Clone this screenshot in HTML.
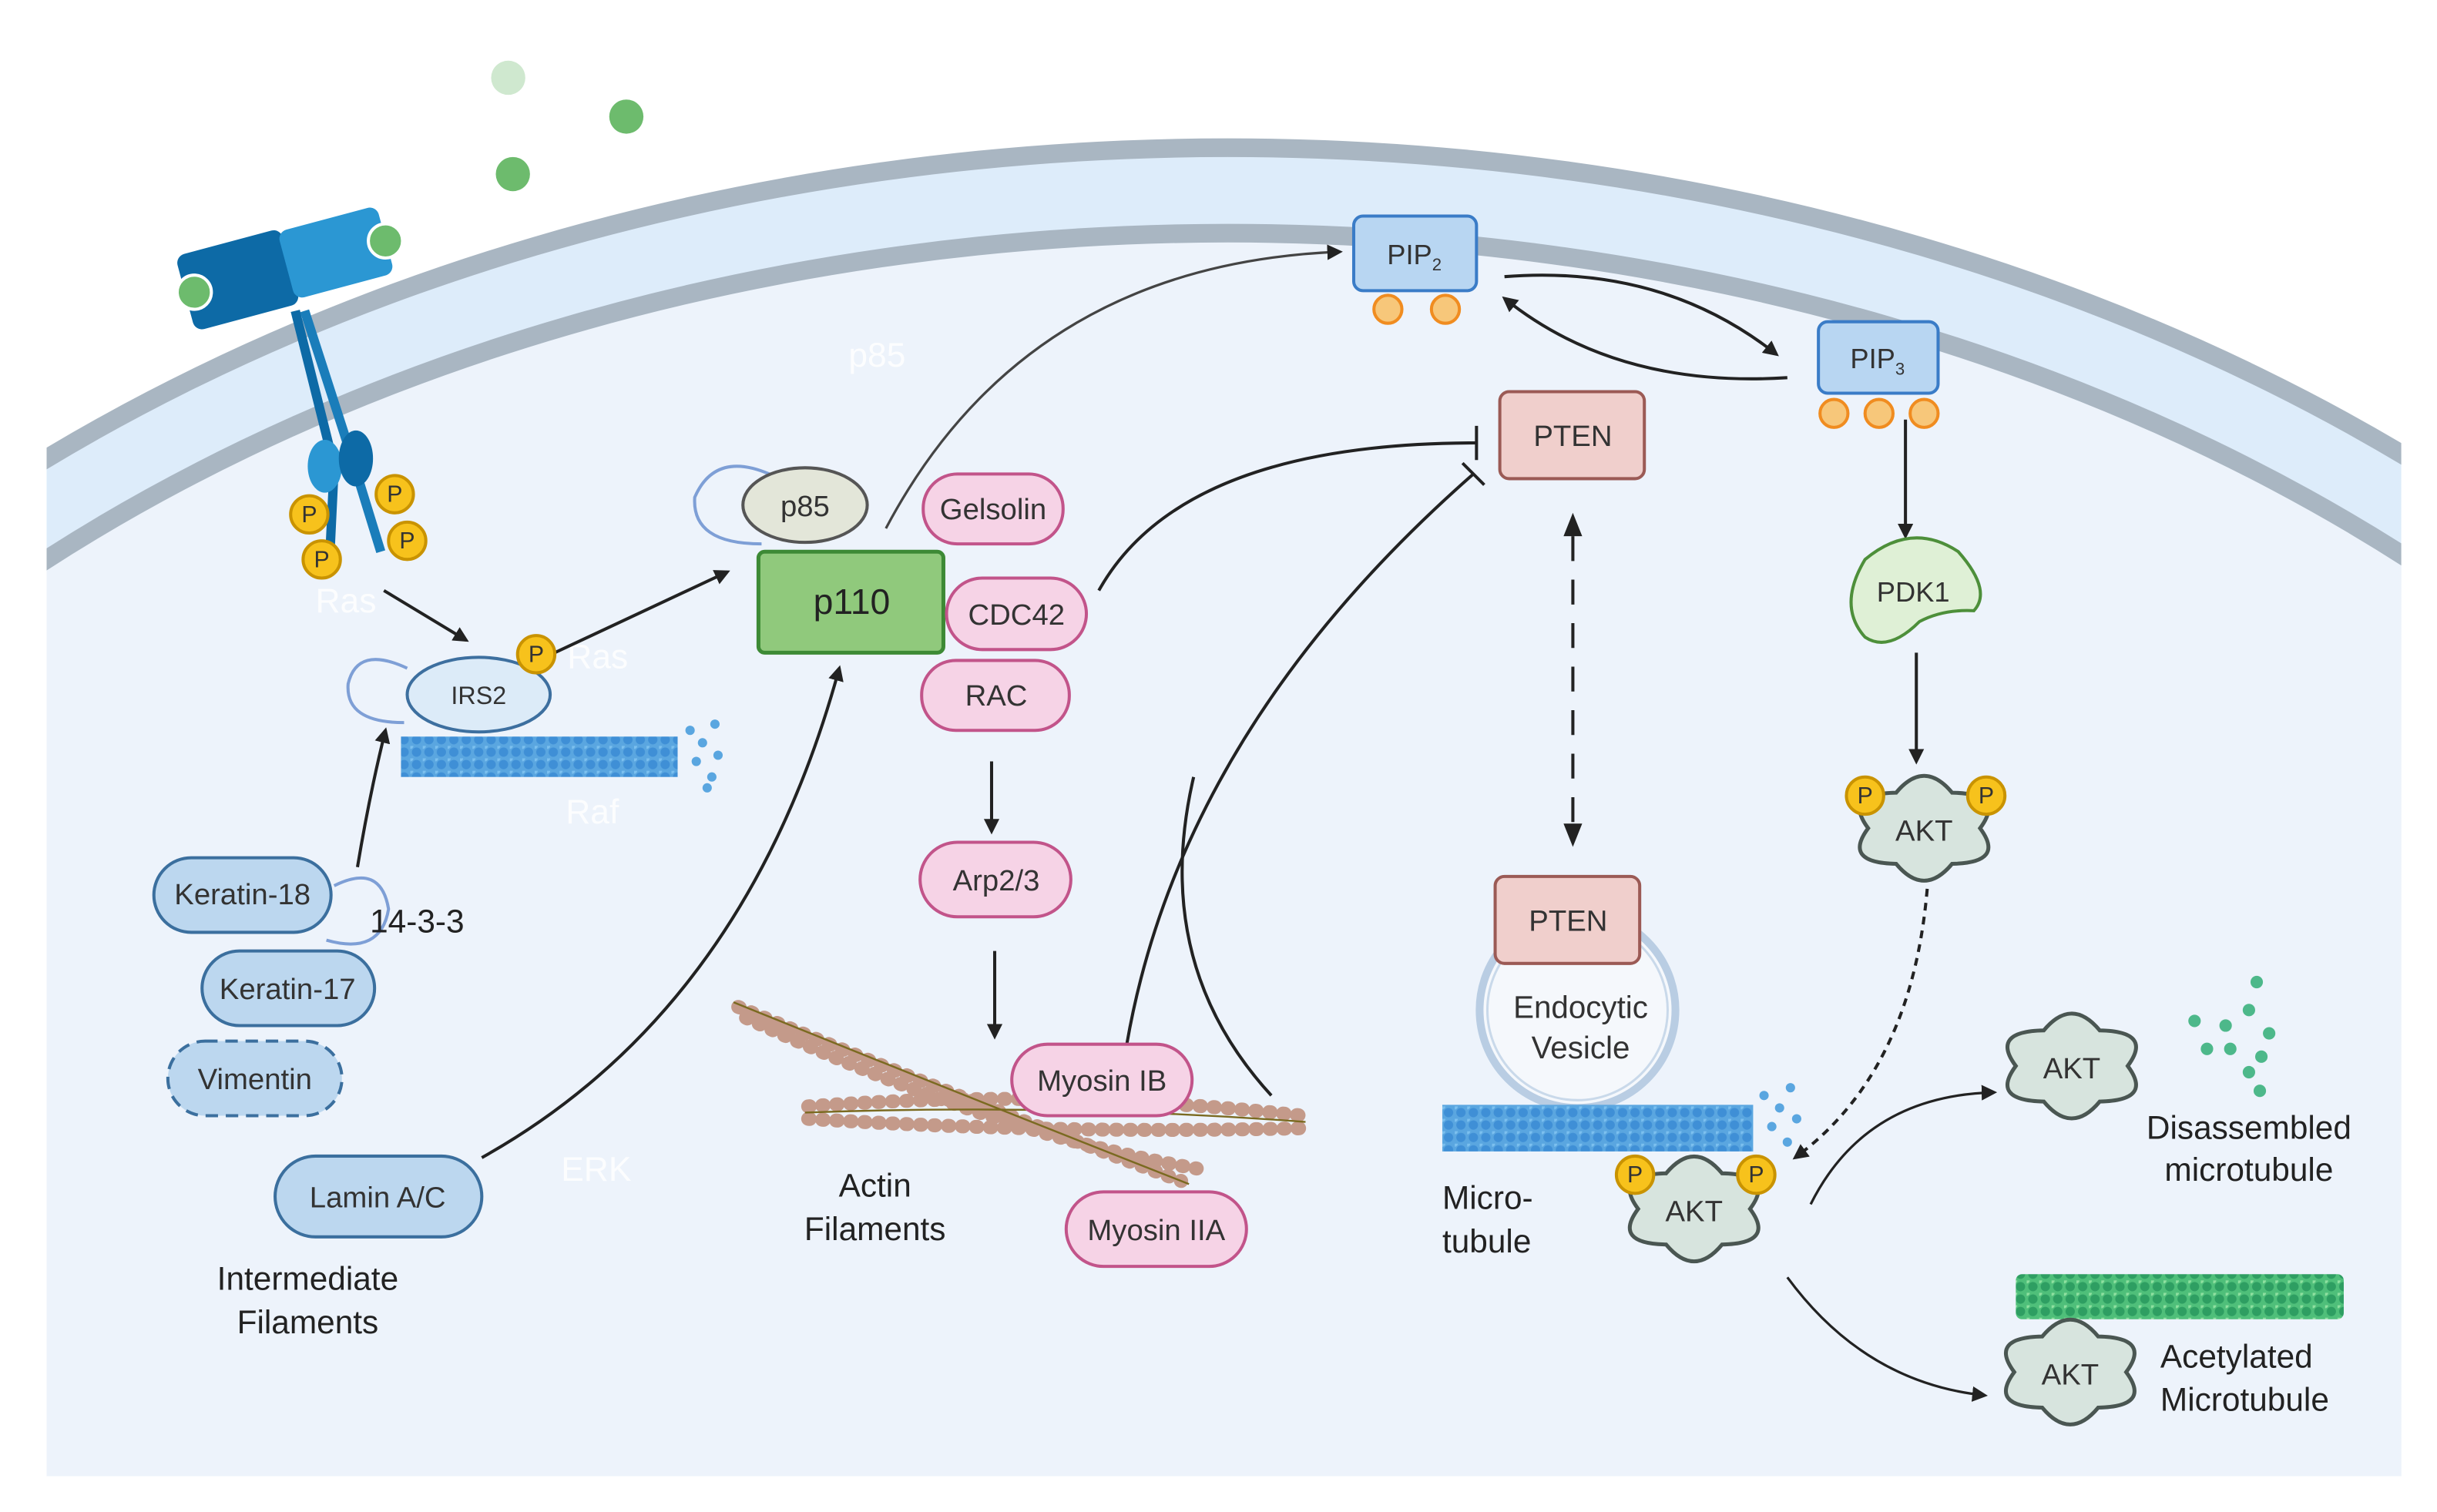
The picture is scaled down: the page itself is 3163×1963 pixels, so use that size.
<!DOCTYPE html>
<html><head><meta charset="utf-8"><style>html,body{margin:0;padding:0;background:#fff;width:3163px;height:1963px;overflow:hidden}svg{display:block}</style></head>
<body>
<svg width="3163" height="1963" viewBox="0 0 1568 973" xmlns="http://www.w3.org/2000/svg" font-family="Liberation Sans, sans-serif">
<defs>
<clipPath id="cell"><rect x="30" y="0" width="1515" height="950"/></clipPath>
<marker id="ar" markerWidth="10" markerHeight="10" refX="8" refY="5" orient="auto" markerUnits="userSpaceOnUse"><path d="M0,0 L10,5 L0,10 Z" fill="#222"/></marker>
<pattern id="mt" width="8" height="8" patternUnits="userSpaceOnUse"><rect width="8" height="8" fill="#5aa6e0"/><circle cx="4" cy="4" r="3" fill="#3f8fd6"/><circle cx="0" cy="0" r="2" fill="#7cc0ef"/></pattern>
<pattern id="gt" width="8" height="8" patternUnits="userSpaceOnUse"><rect width="8" height="8" fill="#4fbf7a"/><circle cx="4" cy="4" r="3" fill="#2e9e62"/><circle cx="0" cy="0" r="2" fill="#8fe0a0"/></pattern>
<g id="akt"><path d="M36,0 Q52.6,22.3 18,22.9 Q0,44.6 -18,22.9 Q-52.6,22.3 -36,0 Q-52.6,-22.3 -18,-22.9 Q0,-44.6 18,-22.9 Q52.6,-22.3 36,0Z" fill="#d7e4de" stroke="#4a5652" stroke-width="2.5"/></g>
<g id="pp"><circle r="12" fill="#f7c21c" stroke="#c99300" stroke-width="2"/></g>
</defs>
<g clip-path="url(#cell)">
<ellipse cx="790" cy="1000" rx="1212" ry="905" fill="#ddecfa"/>
<ellipse cx="790" cy="1000" rx="1212" ry="905" fill="none" stroke="#a9b6c2" stroke-width="12"/>
<ellipse cx="790" cy="1000" rx="1155" ry="850" fill="#edf3fb" stroke="#a9b6c2" stroke-width="12"/>
</g>
<rect x="30" y="600" width="1515" height="350" fill="#edf3fb"/>
<circle cx="327" cy="50" r="11" fill="#cfe8cf"/>
<circle cx="403" cy="75" r="11" fill="#6dbb6d"/>
<circle cx="330" cy="112" r="11" fill="#6dbb6d"/>
<g>
<rect x="118" y="155" width="70" height="50" rx="6" fill="#0d6aa6" transform="rotate(-15 153 180)"/>
<rect x="183" y="140" width="66" height="45" rx="6" fill="#2b97d3" transform="rotate(-15 216 162)"/>
<circle cx="125" cy="188" r="11" fill="#6dbb6d" stroke="#fff" stroke-width="2"/>
<circle cx="248" cy="155" r="11" fill="#6dbb6d" stroke="#fff" stroke-width="2"/>
<path d="M190,200 L215,300 L212,362" stroke="#0d6aa6" stroke-width="6" fill="none"/>
<path d="M196,200 L225,290 L245,355" stroke="#1a7dba" stroke-width="6" fill="none"/>
<ellipse cx="209" cy="300" rx="11" ry="17" fill="#2b97d3"/>
<ellipse cx="229" cy="295" rx="11" ry="18" fill="#0d6aa6"/>
<use href="#pp" x="199" y="331"/><use href="#pp" x="254" y="318"/><use href="#pp" x="207" y="360"/><use href="#pp" x="262" y="348"/>
<g font-size="15" fill="#333" text-anchor="middle"><text x="199" y="336">P</text><text x="254" y="323">P</text><text x="207" y="365">P</text><text x="262" y="353">P</text></g>
</g>
<g fill="#ffffff" font-size="22" opacity="0.85"><text x="546" y="236">p85</text><text x="203" y="394">Ras</text><text x="365" y="430">Ras</text><text x="364" y="530">Raf</text><text x="361" y="760">ERK</text></g>
<g stroke="#222" stroke-width="2" fill="none" marker-end="url(#ar)">
<line x1="247" y1="380" x2="300" y2="412"/>
<line x1="357" y1="420" x2="468" y2="368"/>
<path d="M230,558 Q238,510 248,470"/>
<path d="M310,745 Q480,650 540,430"/>
<path d="M570,340 Q660,170 862,162" stroke="#444" stroke-width="1.6"/>
<line x1="638" y1="490" x2="638" y2="535"/>
<line x1="640" y1="612" x2="640" y2="667"/>
<path d="M968,178 Q1070,170 1143,228"/>
<path d="M1150,243 Q1040,250 968,192"/>
<line x1="1226" y1="270" x2="1226" y2="345"/>
<line x1="1233" y1="420" x2="1233" y2="490"/>
<path d="M1240,572 Q1230,690 1155,745" stroke-dasharray="5,4"/>
<path d="M1165,775 Q1200,705 1283,703" stroke-width="1.6"/>
<path d="M1150,822 Q1200,890 1277,898" stroke-width="1.6"/>
</g>
<g stroke="#222" stroke-width="2" fill="none">
<path d="M707,380 Q760,285 950,285"/><line x1="950" y1="274" x2="950" y2="296"/>
<path d="M725,672 Q760,470 948,305"/><line x1="941" y1="298" x2="955" y2="312"/>
<path d="M818,705 Q740,620 768,500"/>
<line x1="1012" y1="345" x2="1012" y2="530" stroke-dasharray="16,12"/>
</g>
<path d="M1012,330 L1006,345 L1018,345Z M1012,545 L1006,530 L1018,530Z" fill="#222"/>
<path d="M262,430 Q230,415 224,440 Q222,465 260,465" fill="none" stroke="#7e9fd6" stroke-width="2"/>
<rect x="258" y="474" width="178" height="26" fill="url(#mt)"/>
<g fill="#5aa6e0"><circle cx="444" cy="470" r="3"/><circle cx="452" cy="478" r="3"/><circle cx="460" cy="466" r="3"/><circle cx="448" cy="490" r="3"/><circle cx="458" cy="500" r="3"/><circle cx="462" cy="486" r="3"/><circle cx="455" cy="507" r="3"/></g>
<ellipse cx="308" cy="447" rx="46" ry="24" fill="#dcebf8" stroke="#3d6f9f" stroke-width="2"/>
<text x="308" y="453" font-size="16" text-anchor="middle" fill="#333">IRS2</text>
<use href="#pp" x="345" y="421"/><text x="345" y="426" font-size="15" text-anchor="middle" fill="#333">P</text>
<path d="M495,305 Q460,290 447,320 Q445,350 490,350" fill="none" stroke="#7e9fd6" stroke-width="2"/>
<ellipse cx="518" cy="325" rx="40" ry="24" fill="#e3e6d9" stroke="#555" stroke-width="2"/>
<text x="518" y="332" font-size="19" text-anchor="middle" fill="#333">p85</text>
<rect x="488" y="355" width="119" height="65" rx="4" fill="#90c97c" stroke="#3d8a35" stroke-width="2.5"/>
<text x="548" y="395" font-size="23" text-anchor="middle" fill="#222">p110</text>
<g stroke="#c49a8a" stroke-width="9" stroke-linecap="round" stroke-dasharray="1,8" fill="none">
<path d="M475,648 Q600,700 760,760"/><path d="M520,712 Q680,700 838,718"/><path d="M520,720 Q680,730 840,726"/><path d="M480,655 Q640,730 770,752"/>
</g>
<g stroke="#7a6a20" stroke-width="1.2" fill="none"><path d="M472,645 Q620,705 765,762"/><path d="M518,716 Q680,710 840,722"/></g>
<g fill="#f6d3e6" stroke="#c2548a" stroke-width="2">
<rect x="594" y="305" width="90" height="45" rx="22"/>
<rect x="609" y="372" width="90" height="46" rx="23"/>
<rect x="593" y="425" width="95" height="45" rx="22"/>
<rect x="592" y="542" width="97" height="48" rx="24"/>
<rect x="651" y="672" width="116" height="46" rx="23"/>
<rect x="686" y="767" width="116" height="48" rx="24"/>
</g>
<g font-size="19" text-anchor="middle" fill="#333">
<text x="639" y="334">Gelsolin</text><text x="654" y="402">CDC42</text><text x="641" y="454">RAC</text><text x="641" y="573">Arp2/3</text><text x="709" y="702">Myosin IB</text><text x="744" y="798">Myosin IIA</text>
</g>
<text x="563" y="770" font-size="21" text-anchor="middle" fill="#222">Actin</text>
<text x="563" y="798" font-size="21" text-anchor="middle" fill="#222">Filaments</text>
<path d="M215,570 Q245,555 250,585 Q245,615 210,605" fill="none" stroke="#7e9fd6" stroke-width="2"/>
<g fill="#bcd7ef" stroke="#3b6f9e" stroke-width="2">
<rect x="99" y="552" width="114" height="48" rx="24"/>
<rect x="130" y="612" width="111" height="48" rx="24"/>
<rect x="108" y="670" width="112" height="48" rx="24" stroke-dasharray="8,5"/>
<rect x="177" y="744" width="133" height="52" rx="26"/>
</g>
<g font-size="19" text-anchor="middle" fill="#333">
<text x="156" y="582">Keratin-18</text><text x="185" y="643">Keratin-17</text><text x="164" y="701">Vimentin</text><text x="243" y="777">Lamin A/C</text>
</g>
<text x="238" y="600" font-size="21" fill="#222">14-3-3</text>
<text x="198" y="830" font-size="21" text-anchor="middle" fill="#222">Intermediate</text>
<text x="198" y="858" font-size="21" text-anchor="middle" fill="#222">Filaments</text>
<g fill="#f7c77a" stroke="#f08c20" stroke-width="2">
<circle cx="893" cy="199" r="9"/><circle cx="930" cy="199" r="9"/>
<circle cx="1180" cy="266" r="9"/><circle cx="1209" cy="266" r="9"/><circle cx="1238" cy="266" r="9"/>
</g>
<rect x="871" y="139" width="79" height="48" rx="6" fill="#b8d6f2" stroke="#3a7cc7" stroke-width="2"/>
<rect x="1170" y="207" width="77" height="46" rx="6" fill="#b8d6f2" stroke="#3a7cc7" stroke-width="2"/>
<text x="910" y="170" font-size="18" text-anchor="middle" fill="#333">PIP<tspan font-size="11" dy="4">2</tspan></text>
<text x="1208" y="237" font-size="18" text-anchor="middle" fill="#333">PIP<tspan font-size="11" dy="4">3</tspan></text>
<rect x="965" y="252" width="93" height="56" rx="6" fill="#f0cfcc" stroke="#9b5a55" stroke-width="2"/>
<text x="1012" y="287" font-size="19" text-anchor="middle" fill="#333">PTEN</text>
<circle cx="1015" cy="650" r="63" fill="#f5f8fc" stroke="#b9cde3" stroke-width="5"/>
<circle cx="1015" cy="650" r="58" fill="none" stroke="#c9d9ea" stroke-width="1.5"/>
<rect x="962" y="564" width="93" height="56" rx="6" fill="#f0cfcc" stroke="#9b5a55" stroke-width="2"/>
<text x="1009" y="599" font-size="19" text-anchor="middle" fill="#333">PTEN</text>
<text x="1017" y="655" font-size="20" text-anchor="middle" fill="#333">Endocytic</text>
<text x="1017" y="681" font-size="20" text-anchor="middle" fill="#333">Vesicle</text>
<rect x="928" y="711" width="200" height="30" fill="url(#mt)"/>
<g fill="#5aa6e0"><circle cx="1135" cy="705" r="3"/><circle cx="1145" cy="713" r="3"/><circle cx="1152" cy="700" r="3"/><circle cx="1140" cy="725" r="3"/><circle cx="1150" cy="735" r="3"/><circle cx="1156" cy="720" r="3"/></g>
<text x="928" y="778" font-size="21" fill="#222">Micro-</text>
<text x="928" y="806" font-size="21" fill="#222">tubule</text>
<path d="M1200,360 Q1230,335 1260,355 Q1282,380 1270,393 Q1250,392 1235,400 Q1215,420 1200,410 Q1182,390 1200,360Z" fill="#dff0d6" stroke="#4d8f3a" stroke-width="2"/>
<text x="1231" y="387" font-size="18" text-anchor="middle" fill="#333">PDK1</text>
<use href="#akt" x="1238" y="533"/><text x="1238" y="541" font-size="19" text-anchor="middle" fill="#333">AKT</text>
<use href="#pp" x="1200" y="512"/><use href="#pp" x="1278" y="512"/>
<text x="1200" y="517" font-size="15" text-anchor="middle" fill="#333">P</text><text x="1278" y="517" font-size="15" text-anchor="middle" fill="#333">P</text>
<use href="#akt" x="1090" y="778"/><text x="1090" y="786" font-size="19" text-anchor="middle" fill="#333">AKT</text>
<use href="#pp" x="1052" y="756"/><use href="#pp" x="1130" y="756"/>
<text x="1052" y="761" font-size="15" text-anchor="middle" fill="#333">P</text><text x="1130" y="761" font-size="15" text-anchor="middle" fill="#333">P</text>
<use href="#akt" x="1333" y="686"/><text x="1333" y="694" font-size="19" text-anchor="middle" fill="#333">AKT</text>
<g fill="#4db88a"><circle cx="1452" cy="632" r="4"/><circle cx="1412" cy="657" r="4"/><circle cx="1432" cy="660" r="4"/><circle cx="1447" cy="650" r="4"/><circle cx="1460" cy="665" r="4"/><circle cx="1420" cy="675" r="4"/><circle cx="1435" cy="675" r="4"/><circle cx="1455" cy="680" r="4"/><circle cx="1447" cy="690" r="4"/><circle cx="1454" cy="702" r="4"/></g>
<text x="1447" y="733" font-size="21" text-anchor="middle" fill="#222">Disassembled</text>
<text x="1447" y="760" font-size="21" text-anchor="middle" fill="#222">microtubule</text>
<rect x="1297" y="820" width="211" height="29" rx="4" fill="url(#gt)"/>
<use href="#akt" x="1332" y="883"/><text x="1332" y="891" font-size="19" text-anchor="middle" fill="#333">AKT</text>
<text x="1390" y="880" font-size="21" fill="#222">Acetylated</text>
<text x="1390" y="908" font-size="21" fill="#222">Microtubule</text>
</svg>
</body></html>
